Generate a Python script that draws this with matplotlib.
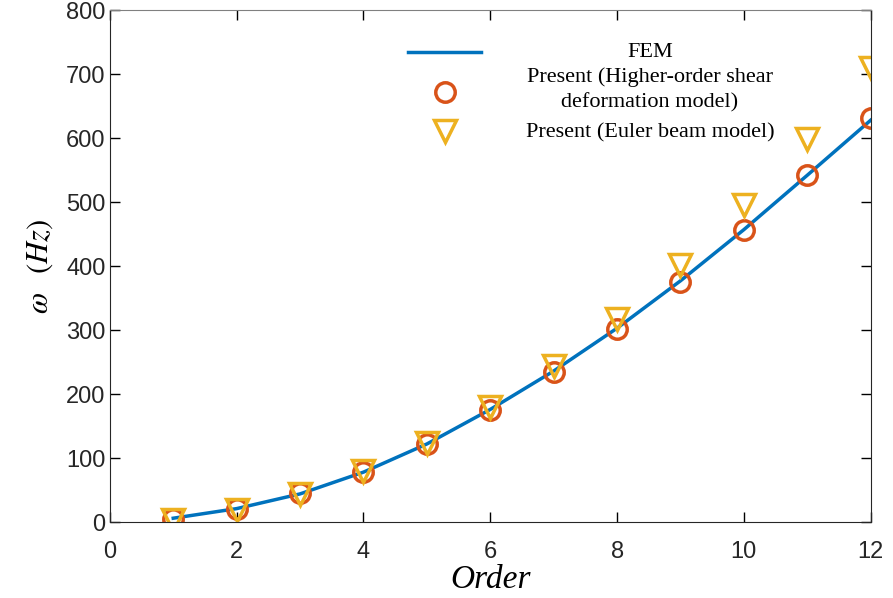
import numpy as np
import matplotlib.pyplot as plt

order = np.arange(1, 13)
fem = [6, 21, 44, 78, 122, 176, 236, 303, 377, 457, 542, 628]
hosd = [5, 21, 45, 78, 122, 175, 234, 302, 375, 456, 542, 631]
euler = [3, 19, 44, 80, 124, 180, 244, 317, 402, 495, 598, 709]

labels = ["FEM", "Present (Higher-order shear\ndeformation model)", "Present (Euler beam model)"]

tickfont = ['Liberation Sans', 'DejaVu Sans']
serif = ['Liberation Serif', 'DejaVu Serif']
plt.rcParams['mathtext.fontset'] = 'stix'

fig = plt.figure(figsize=(8.93, 5.98), dpi=100)
ax = fig.add_axes([0.123, 0.127, 0.852, 0.856])

l1, = ax.plot(order, fem, color='#0072BD', lw=2.5)
l2, = ax.plot(order, hosd, 'o', mfc='none', mec='#D95319', mew=2.5, ms=14)
l3, = ax.plot(order, euler, 'v', mfc='none', mec='#EDB120', mew=2.5, ms=16)

ax.set_xlim(0, 12)
ax.set_ylim(0, 800)
ax.set_xticks(range(0, 13, 2))
ax.set_yticks(range(0, 801, 100))
ax.tick_params(direction='in', length=7, width=1, top=True, right=True, labelsize=17)
ax.tick_params(axis='x', pad=14)
ax.tick_params(axis='y', pad=3)
for lab in ax.get_xticklabels() + ax.get_yticklabels():
    lab.set_family(tickfont)
    lab.set_color('#262626')
for s in ax.spines.values():
    s.set_color('#262626')
ax.spines['top'].set_color('#808080')

ax.set_xlabel("Order", family=serif, style='italic', fontsize=24, labelpad=1)
ax.set_ylabel(r"$\omega$  $(Hz)$", fontsize=22, labelpad=8)

# legend: handles only, labels drawn centred like the original
leg = ax.legend([l1, l2, l3], ['', '', ''], frameon=False, loc='upper left',
                bbox_to_anchor=(0.392, 0.934), handlelength=4.4, labelspacing=1.3,
                fontsize=12, borderaxespad=0, borderpad=0)
ys = [0.918, 0.844, 0.76]
for lab, y in zip(labels, ys):
    ax.text(0.71, y, lab, transform=ax.transAxes, ha='center', va='center',
            family=serif, fontsize=16, linespacing=1.4)

fig.savefig("out.png", dpi=100)
